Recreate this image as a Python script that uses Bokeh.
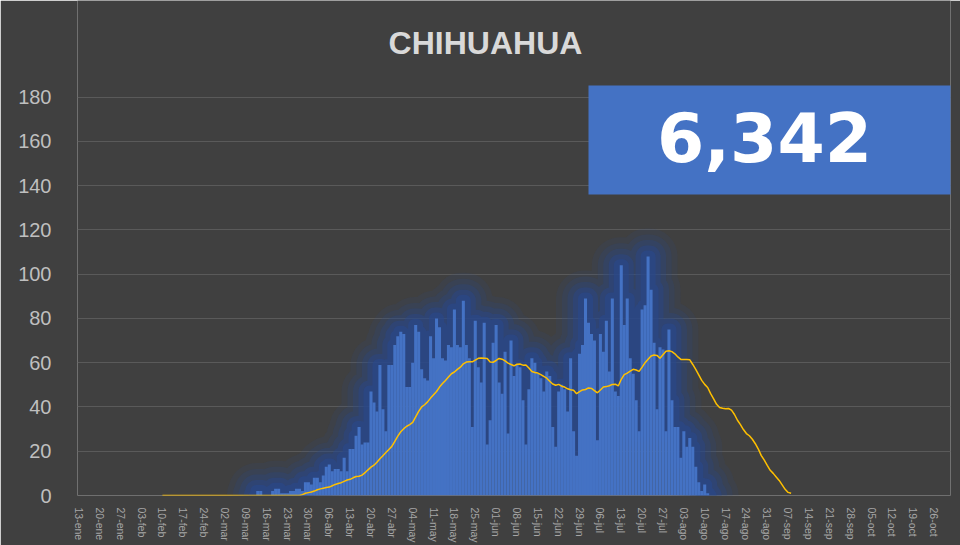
from datetime import date
from bokeh.plotting import figure
from bokeh.models import Range1d, FixedTicker, Label, BoxAnnotation
from bokeh.embed import file_html
from bokeh.resources import INLINE

title_text = "CHIHUAHUA"
total_text = "6,342"

# daily confirmed cases (bars), starting at cases_start
cases_start = "2020-03-13"
cases = [2, 2, 0, 0, 0, 2, 3, 3, 1, 1, 1, 2, 2, 3, 3, 2, 6, 6, 5, 8,
         8, 6, 9, 13, 14, 11, 12, 12, 11, 17, 11, 21, 21, 27, 31, 23, 24, 24, 47, 42,
         38, 59, 39, 29, 59, 59, 68, 72, 74, 73, 49, 49, 60, 77, 74, 57, 53, 52, 72, 62,
         80, 76, 62, 61, 68, 67, 84, 68, 67, 88, 68, 62, 31, 79, 58, 51, 78, 23, 34, 69,
         77, 51, 46, 65, 28, 70, 54, 59, 58, 43, 23, 48, 62, 60, 55, 53, 47, 56, 54, 31,
         22, 47, 50, 48, 38, 62, 29, 18, 64, 68, 89, 78, 73, 70, 25, 73, 65, 79, 56, 89,
         47, 45, 104, 77, 89, 62, 55, 43, 29, 84, 86, 108, 93, 69, 39, 67, 66, 29, 75, 43,
         31, 31, 17, 29, 22, 26, 22, 13, 6, 2, 5, 1]

# moving average (yellow line), starting at avg_start
avg_start = "2020-02-10"
avg7 = [0, 0, 0, 0, 0, 0, 0, 0, 0, 0, 0, 0, 0, 0, 0, 0, 0, 0, 0, 0,
        0, 0, 0, 0, 0, 0, 0, 0, 0, 0, 0, 0, 0, 0, 0, 0, 0, 0, 0, 0,
        0, 0, 0, 0, 0, 0, 0, 0.4,
        1.0, 1.3, 1.6, 2.0, 2.6, 3.0, 3.3, 3.6, 3.8, 4.4, 5.0, 5.4, 5.8, 6.4, 7.0, 7.3,
        8.0, 8.6, 8.7, 9.2, 10.3, 11.6, 12.8, 13.7, 15.0, 16.6, 18.0, 19.4, 20.8, 22.2,
        24.5, 26.8, 28.8, 30.2, 31.3, 32.0, 33.0, 35.5, 38.0, 40.0, 41.0, 42.3, 44.0, 45.5,
        47.0, 49.0, 50.6, 52.0, 53.5, 55.0, 55.8, 57.0, 58.0, 59.5, 60.3, 60.4, 60.4, 61.2,
        62.0, 62.1, 62.0, 61.9, 60.3, 60.2, 61.0, 61.9, 61.6, 60.8, 59.8, 59.2, 58.6, 59.3,
        59.4, 58.9, 59.0, 57.6, 56.0, 55.6, 55.3, 54.6, 53.8, 53.0, 51.6, 50.4, 49.8, 50.2,
        49.4, 49.0, 48.2, 47.8, 47.6, 46.0, 46.9, 47.7, 47.9, 48.6, 48.4, 47.4, 46.4, 47.7,
        49.0, 49.2, 49.6, 50.2, 50.3, 49.5, 52.5, 54.6, 55.3, 56.2, 57.0, 56.7, 56.1, 58.0,
        60.0, 61.6, 63.0, 63.5, 63.3, 62.0, 63.6, 65.2, 65.4, 65.0, 64.0, 62.6, 61.5, 61.4,
        61.4, 61.3, 59.2, 57.0, 54.5, 52.0, 50.2, 48.8, 46.0, 43.7, 41.2, 39.8, 39.4, 39.2,
        39.3, 38.6, 36.6, 34.0, 32.0, 29.8, 28.0, 27.0, 25.4, 23.4, 21.0, 18.0, 16.0, 13.6,
        11.4, 10.0, 8.4, 6.8, 4.8, 2.8, 1.4, 1.0]

axis_start = "2020-01-13"
axis_end = "2020-10-31"
tick_labels = ["13-ene", "20-ene", "27-ene", "03-feb", "10-feb", "17-feb", "24-feb",
               "02-mar", "09-mar", "16-mar", "23-mar", "30-mar", "06-abr", "13-abr",
               "20-abr", "27-abr", "04-may", "11-may", "18-may", "25-may", "01-jun",
               "08-jun", "15-jun", "22-jun", "29-jun", "06-jul", "13-jul", "20-jul",
               "27-jul", "03-ago", "10-ago", "17-ago", "24-ago", "31-ago", "07-sep",
               "14-sep", "21-sep", "28-sep", "05-oct", "12-oct", "19-oct", "26-oct"]
y_ticks = [0, 20, 40, 60, 80, 100, 120, 140, 160, 180]


def day(s):
    return (date.fromisoformat(s) - date(2020, 1, 1)).days


c0 = day(cases_start)
case_days = [c0 + k for k in range(len(cases))]
a0 = day(avg_start)
avg_days = [a0 + k for k in range(len(avg7))]
t0 = day(axis_start)
tick_days = [t0 + 7 * k for k in range(len(tick_labels))]

BG = "#404040"
BLUE = "#4472C4"
GLOW = "#29488A"

# frame spans the full height above the axis, so title and box can sit inside it
p = figure(width=960, height=545, output_backend="svg", toolbar_location=None, title=None,
           x_range=Range1d(day(axis_start) - 0.5, day(axis_end) + 0.5),
           y_range=Range1d(0, 223.65),
           min_border_left=77, min_border_right=10, min_border_top=0, min_border_bottom=48)
p.background_fill_color = BG
p.border_fill_color = BG
p.outline_line_color = None

# glow around bars: one stroked step path per layer
gx = [case_days[0] - 1] + case_days + [case_days[-1] + 1]
gy = [0] + cases + [0]
for w, a in [(56, 0.12), (44, 0.18), (33, 0.28), (22, 0.42), (12, 0.6)]:
    p.step(gx, gy, mode="center", line_width=w, line_alpha=a, line_color=GLOW,
           line_join="round", line_cap="round")

p.vbar(x=case_days, top=cases, width=1.02, fill_color=BLUE, line_color=None)
p.line(avg_days, avg7, line_color="#FFC000", line_width=1.5)

# axes
p.xaxis.ticker = FixedTicker(ticks=tick_days)
p.xaxis.major_label_overrides = {d: l for d, l in zip(tick_days, tick_labels)}
p.xaxis.major_label_orientation = "vertical"
p.xaxis.major_label_text_font = "Liberation Sans"
p.xaxis.major_label_text_font_size = "10.5px"
p.xaxis.major_label_text_color = "#a6a6a6"
p.xaxis.major_label_standoff = 6
p.xaxis.axis_line_color = None
p.xaxis.major_tick_line_color = None
p.xaxis.minor_tick_line_color = None

p.yaxis.ticker = FixedTicker(ticks=y_ticks)
p.yaxis.major_label_text_font = "Liberation Sans"
p.yaxis.major_label_text_font_size = "20px"
p.yaxis.major_label_text_color = "#bfbfbf"
p.yaxis.major_label_standoff = 20
p.yaxis.axis_line_color = None
p.yaxis.major_tick_line_color = None
p.yaxis.minor_tick_line_color = None

p.xgrid.grid_line_color = None
p.ygrid.grid_line_color = "#5a5a5a"
p.ygrid.grid_line_width = 1

# title
p.add_layout(Label(x=408, y=453, x_units="screen", y_units="screen", text=title_text,
                   text_font="Liberation Sans", text_font_style="bold",
                   text_font_size="32px", text_color="#d9d9d9",
                   text_align="center", text_baseline="middle", level="overlay"))

# total box
p.add_layout(BoxAnnotation(left=511, right=900, top=410, bottom=301,
                           left_units="screen", right_units="screen",
                           top_units="screen", bottom_units="screen",
                           fill_color=BLUE, fill_alpha=1.0, line_color=None,
                           level="overlay"))
p.add_layout(Label(x=687, y=359, x_units="screen", y_units="screen", text=total_text,
                   text_font="DejaVu Sans", text_font_style="bold",
                   text_font_size="68px", text_color="white",
                   text_align="center", text_baseline="middle", level="overlay"))

open("out.html", "w").write(file_html(p, INLINE))
